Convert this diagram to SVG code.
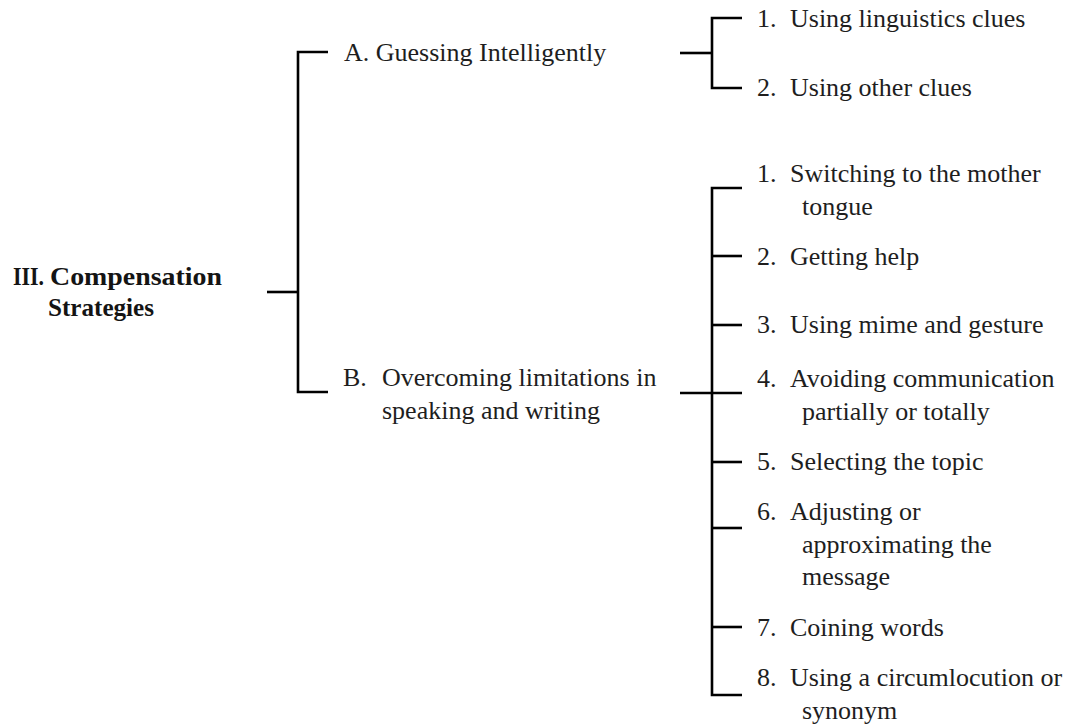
<svg xmlns="http://www.w3.org/2000/svg" width="1065" height="726" viewBox="0 0 1065 726">
  <style>
    .t { font-family: "Liberation Serif", "Times New Roman", serif; font-size: 26px; fill: #1e1e1e; }
    .b { font-family: "Liberation Serif", "Times New Roman", serif; font-size: 26px; font-weight: bold; fill: #141414; }
    .ln { stroke: #000; stroke-width: 2.6; fill: none; stroke-linecap: butt; }
  </style>
  <rect width="1065" height="726" fill="#fff"/>

  <!-- connectors -->
  <g id="connectors" class="ln">
    <!-- root bracket -->
    <path d="M267,292 H298"/>
    <path d="M328,52 H298 V392 H328"/>
    <!-- bracket for A -->
    <path d="M680,53 H712"/>
    <path d="M742,18 H712 V88 H742"/>
    <!-- bracket for B -->
    <path d="M680,393 H742"/>
    <path d="M742,188 H712 V695 H742"/>
    <path d="M712,256 H742"/>
    <path d="M712,325 H742"/>
    <path d="M712,462 H742"/>
    <path d="M712,528 H742"/>
    <path d="M712,627 H742"/>
  </g>

  <!-- root -->
  <g id="root">
    <text class="b" x="13" y="285" textLength="31" lengthAdjust="spacingAndGlyphs">III.</text>
    <text class="b" x="50" y="285" textLength="172" lengthAdjust="spacingAndGlyphs">Compensation</text>
    <text class="b" x="48" y="316" textLength="106" lengthAdjust="spacingAndGlyphs">Strategies</text>
  </g>

  <!-- level A / B -->
  <g id="nodeA">
    <text class="t" x="344" y="61">A. Guessing Intelligently</text>
  </g>
  <g id="nodeB">
    <text class="t" x="343" y="386">B.</text>
    <text class="t" x="382" y="386">Overcoming limitations in</text>
    <text class="t" x="382" y="419">speaking and writing</text>
  </g>

  <!-- children of A -->
  <g id="a1">
    <text class="t" x="757" y="27">1.</text>
    <text class="t" x="790" y="27">Using linguistics clues</text>
  </g>
  <g id="a2">
    <text class="t" x="757" y="96">2.</text>
    <text class="t" x="790" y="96">Using other clues</text>
  </g>

  <!-- children of B -->
  <g id="b1">
    <text class="t" x="757" y="182">1.</text>
    <text class="t" x="790" y="182">Switching to the mother</text>
    <text class="t" x="802" y="215">tongue</text>
  </g>
  <g id="b2">
    <text class="t" x="757" y="265">2.</text>
    <text class="t" x="790" y="265">Getting help</text>
  </g>
  <g id="b3">
    <text class="t" x="757" y="333">3.</text>
    <text class="t" x="790" y="333">Using mime and gesture</text>
  </g>
  <g id="b4">
    <text class="t" x="757" y="387">4.</text>
    <text class="t" x="790" y="387">Avoiding communication</text>
    <text class="t" x="802" y="420">partially or totally</text>
  </g>
  <g id="b5">
    <text class="t" x="757" y="470">5.</text>
    <text class="t" x="790" y="470">Selecting the topic</text>
  </g>
  <g id="b6">
    <text class="t" x="757" y="520">6.</text>
    <text class="t" x="790" y="520">Adjusting or</text>
    <text class="t" x="802" y="553">approximating the</text>
    <text class="t" x="802" y="585">message</text>
  </g>
  <g id="b7">
    <text class="t" x="757" y="636">7.</text>
    <text class="t" x="790" y="636">Coining words</text>
  </g>
  <g id="b8">
    <text class="t" x="757" y="686">8.</text>
    <text class="t" x="790" y="686">Using a circumlocution or</text>
    <text class="t" x="802" y="719">synonym</text>
  </g>
</svg>
